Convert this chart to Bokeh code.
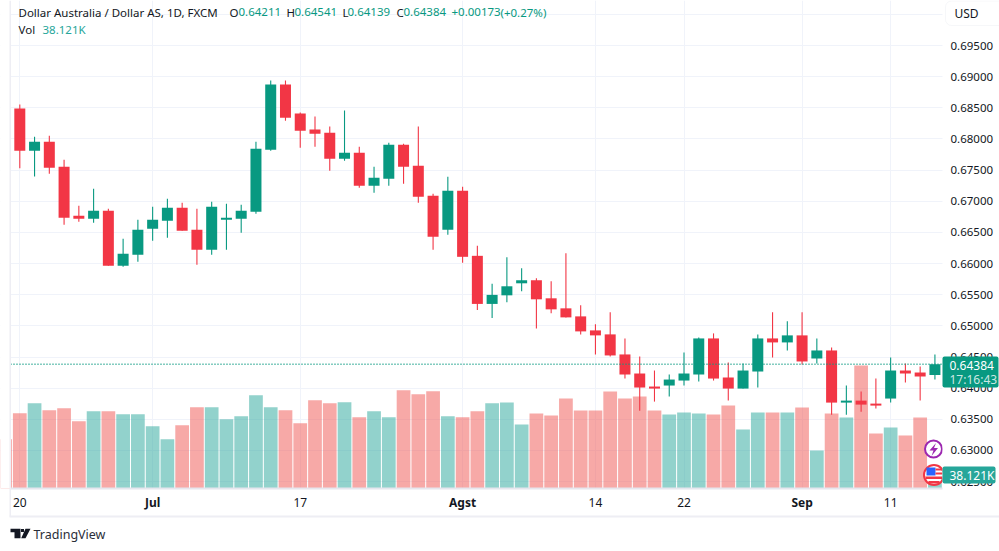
from bokeh.plotting import figure
from bokeh.models import ColumnDataSource, Range1d, FixedTicker, Label, BoxAnnotation, PolyAnnotation, NumeralTickFormatter
from bokeh.embed import file_html
from bokeh.resources import INLINE

# ---------- data ----------
opens = [.68487,.67812,.67957,.67555,.66767,.66719,.66847,.65963,.66140,.66558,.66687,.66896,.66542,.66220,.66703,.66719,
         .66831,.67828,.68873,.68407,.68150,.68101,.67683,.67780,.67249,.67362,.67908,.67571,.67088,.66542,.67169,.66124,
         .65352,.65490,.65683,.65732,.65442,.65281,.65152,.64927,.64863,.64541,.64235,.64026,.64042,.64122,.64219,.64798,
         .64171,.63993,.64267,.64798,.64734,.64847,.64476,.64605,.63768,.63800,.63752,.63833,.64283,.64251,.64211]
highs = [.68551,.68037,.68053,.67667,.66928,.67201,.66879,.66397,.66703,.66912,.67040,.66976,.66879,.66992,.66960,.66944,
         .67957,.68937,.68937,.68423,.68359,.68198,.68455,.67876,.67555,.67941,.67924,.68198,.67121,.67394,.67233,.66285,
         .65674,.66102,.65925,.65764,.65716,.66166,.65329,.65024,.65217,.64798,.64509,.64283,.64219,.64573,.64814,.64879,
         .64412,.64396,.64863,.65217,.65072,.65217,.64798,.64653,.64042,.63945,.64154,.64492,.64396,.64348,.64541]
lows =  [.67528,.67399,.67442,.66622,.66670,.66654,.65963,.65947,.66027,.66365,.66413,.66526,.65979,.66140,.66220,.66494,
         .66799,.67812,.68294,.67860,.67876,.67490,.67651,.67217,.67137,.67249,.67281,.66976,.66220,.66461,.66011,.65256,
         .65127,.65378,.65555,.64959,.65201,.65136,.64863,.64541,.64509,.64154,.63639,.63784,.63865,.64042,.64106,.64122,
         .63800,.63993,.64010,.64492,.64605,.64380,.64396,.63575,.63575,.63623,.63672,.63768,.64090,.63800,.64139]
closes = [.67812,.67957,.67539,.66735,.66719,.66847,.65963,.66156,.66542,.66703,.66896,.66526,.66220,.66912,.66735,.66847,
          .67844,.68873,.68342,.68133,.68085,.67683,.67780,.67249,.67378,.67908,.67555,.67072,.66429,.67169,.66108,.65352,
          .65497,.65635,.65732,.65426,.65265,.65136,.64911,.64847,.64525,.64219,.64010,.63993,.64138,.64235,.64798,.64154,
          .63993,.64283,.64798,.64734,.64847,.64428,.64605,.63768,.63800,.63736,.63720,.64283,.64235,.64187,.64384]
# thousands; the first entry belongs to the bar cut by the left edge
volumes = [131.6,
           200.9,227.6,208.9,214.2,179.6,206.2,206.2,198.2,198.2,166.2,131.6,168.9,216.9,216.9,184.9,192.9,
           248.9,216.9,208.9,174.2,235.6,227.6,230.3,190.2,206.2,190.2,262.3,251.6,259.6,192.9,190.2,206.2,
           227.6,229.4,170.7,200.0,194.7,240.0,208.0,208.0,258.7,240.0,245.4,208.0,197.4,202.7,200.0,197.4,
           221.4,157.4,202.7,202.7,202.7,216.0,101.3,200.0,189.4,328.0,146.7,162.7,141.4,189.4,38.121]
price_ticks = [.625,.63,.635,.64,.645,.65,.655,.66,.665,.67,.675,.68,.685,.69,.695,.70]
date_positions = [0, 19, 39, 45, 59]
date_labels = ["20", "17", "14", "22", "11"]
month_positions = [9, 30, 53]
month_labels = ["Jul", "Agst", "Sep"]

# ---------- style ----------
FONT = "Noto Sans"
INK = "#131722"
UP, DOWN = "#089981", "#f23645"
VUP, VDOWN = "#26a69a", "#ef5350"
GRID = "#f0f3fa"
BORDER = "#eeeef4"

W, H = 999, 551
L, R, B = 10, 942, 488        # edges of the price pane, in picture pixels

# the frame fills the whole canvas; ranges are set so one picture pixel maps linearly to data
x0, x1 = (0 - 19.3) / 14.76, (W - 19.3) / 14.76
y1 = 0.695 + 45 / 6230
y0 = 0.695 - (H - 45) / 6230
def fx(px): return x0 + px * (x1 - x0) / W
def fy(py): return y1 - py * (y1 - y0) / H
VOL_PER_PX = 2.667

p = figure(width=W, height=H, output_backend="svg", toolbar_location=None,
           x_range=Range1d(x0, x1), y_range=Range1d(y0, y1),
           y_axis_location="right", min_border=0,
           background_fill_color="white", border_fill_color="white", outline_line_color=None)
p.extra_y_ranges = {"vol": Range1d(-(H - B) * VOL_PER_PX, B * VOL_PER_PX)}

# mask under the pane, over the grid
p.quad(left=[x0], right=[x1], top=[fy(B)], bottom=[y0], fill_color="white", line_color=None)

n = len(opens)
idx = list(range(n))
is_up = [c >= o for o, c in zip(opens, closes)]

vsrc = ColumnDataSource(dict(
    x=list(range(-1, n)), v=volumes,
    c=[VDOWN] + [VUP if u else VDOWN for u in is_up]))
p.vbar(x="x", top="v", bottom=0, width=0.93, fill_color="c", fill_alpha=0.5, line_color=None,
       source=vsrc, y_range_name="vol")
# mask left of the pane
p.quad(left=[x0], right=[fx(L)], top=[y1], bottom=[fy(B)], fill_color="white", line_color=None)

src = ColumnDataSource(dict(
    x=idx, h=highs, l=lows,
    t=[max(o, c) for o, c in zip(opens, closes)],
    b=[min(o, c) for o, c in zip(opens, closes)],
    c=[UP if u else DOWN for u in is_up]))
p.segment(x0="x", y0="l", x1="x", y1="h", line_color="c", line_width=1.1, source=src)
p.vbar(x="x", top="t", bottom="b", width=0.745, fill_color="c", line_color=None, source=src)

# last price line
p.line([fx(L), fx(R)], [closes[-1], closes[-1]], line_color=UP, line_width=1.4, line_dash="1 2")

# event icons, cut by the price scale
p.scatter([fx(933)], [fy(448.5)], size=17, marker="circle", fill_color="white", line_color="#9c27b0", line_width=2)
p.patch([fx(a) for a in (935.5, 929, 933, 931, 937.5, 933.5)],
        [fy(b) for b in (442.5, 450, 450, 455.5, 447.5, 447.5)], fill_color="#9c27b0", line_color=None)
p.scatter([fx(933.5)], [fy(474.5)], size=20, marker="circle", fill_color="white", line_color=DOWN, line_width=2)
p.quad(left=[fx(926), fx(935), fx(935), fx(925), fx(928)],
       right=[fx(935), fx(942), fx(942), fx(942), fx(939)],
       top=[fy(467), fy(468), fy(472), fy(476), fy(480.5)],
       bottom=[fy(475), fy(470), fy(474), fy(478.5), fy(483)],
       fill_color=["#2962ff", DOWN, DOWN, DOWN, DOWN], line_color=None)
p.quad(left=[fx(R)], right=[x1], top=[y1], bottom=[fy(B + 1)], fill_color="white", line_color=None)

# axes and grid
p.yaxis.fixed_location = fx(R)
p.yaxis.ticker = FixedTicker(ticks=price_ticks)
p.yaxis.formatter = NumeralTickFormatter(format="0.00000")
p.yaxis.axis_line_color = None
p.yaxis.major_tick_line_color = None
p.yaxis.minor_tick_line_color = None
p.yaxis.major_label_standoff = 2
p.yaxis.major_label_text_font = FONT
p.yaxis.major_label_text_font_size = "11.5px"
p.yaxis.major_label_text_color = INK

all_dates = date_positions + month_positions
p.xaxis.fixed_location = fy(B)
p.xaxis.bounds = (fx(L), fx(R))
p.xaxis.ticker = FixedTicker(ticks=date_positions)
p.xaxis.major_label_overrides = dict(zip(date_positions, date_labels))
p.xaxis.axis_line_color = "#e6e6ee"
p.xaxis.axis_line_width = 2
p.xaxis.major_tick_line_color = None
p.xaxis.minor_tick_line_color = None
p.xaxis.major_label_standoff = 3
p.xaxis.major_label_text_font = FONT
p.xaxis.major_label_text_font_size = "12px"
p.xaxis.major_label_text_color = INK

p.xgrid.ticker = FixedTicker(ticks=all_dates)
p.ygrid.ticker = FixedTicker(ticks=price_ticks)
p.xgrid.bounds = (fy(B), y1)
p.ygrid.bounds = (fx(L), fx(R))
p.xgrid.grid_line_color = GRID
p.ygrid.grid_line_color = GRID

def text(x, y, s, color=INK, size=11.5, style="normal", align="left", alpha=1.0):
    p.add_layout(Label(x=fx(x), y=fy(y), text=s, text_color=color,
                       text_font=FONT, text_font_size=f"{size}px", text_font_style=style,
                       text_align=align, text_baseline="middle", text_alpha=alpha))

def rect(l, t, r, b, color, radius=0, line=None):
    p.add_layout(BoxAnnotation(left=fx(l), right=fx(r), top=fy(t), bottom=fy(b),
                               fill_color=color, fill_alpha=1, line_color=line, line_width=1,
                               border_radius=radius, editable=False))

for pos, lab in zip(month_positions, month_labels):
    p.add_layout(Label(x=pos, y=fy(502), text=lab, text_color=INK,
                       text_font=FONT, text_font_size="12px", text_font_style="bold",
                       text_align="center", text_baseline="middle"))

# chart borders
rect(9, 0, 10.5, 516, BORDER)
rect(9, 515, 1001, 517, BORDER)

# USD button
rect(945, 0.5, 1006, 25, "white", radius=6, line="#e0e3eb")
text(954, 13, "USD", size=12)

# price tag
rect(942, 356, 998, 387, UP, radius=2)
text(949, 364.5, "0.64384", "white", 12)
text(949, 378.5, "17:16:43", "white", 12, alpha=0.8)

# volume tag
rect(942, 466, 995, 483, VUP, radius=2)
text(949, 474.5, "38.121K", "white", 12)

# legend
text(18, 11.5, "Dollar Australia / Dollar AS, 1D, FXCM")
for x, s, c in [(229, "O", INK), (238, "0.64211", UP), (286, "H", INK), (294, "0.64541", UP),
                (342, "L", INK), (347, "0.64139", UP), (396, "C", INK), (403, "0.64384", UP),
                (451, "+0.00173", UP), (500, "(+0.27%)", UP)]:
    text(x, 11.5, s, c)
text(18, 29, "Vol")
text(42, 29, "38.121K", VUP)

# TradingView logo
for xs, ys in [((10, 20, 20, 14, 14, 10), (528.3, 528.3, 537.7, 537.7, 531.7, 531.7)),
               ((25, 30, 25, 20.7), (528.3, 528.3, 537.7, 537.7)),
               ((20.5, 23.5, 23.5, 20.5), (528.5, 528.5, 531.5, 531.5))]:
    p.add_layout(PolyAnnotation(xs=[fx(a) for a in xs], ys=[fy(b) for b in ys],
                                fill_color=INK, fill_alpha=1, line_color=None, editable=False))
text(33, 533.5, "TradingView", "#2a2e39", 12.5)

open("out.html", "w").write(file_html(p, INLINE))
